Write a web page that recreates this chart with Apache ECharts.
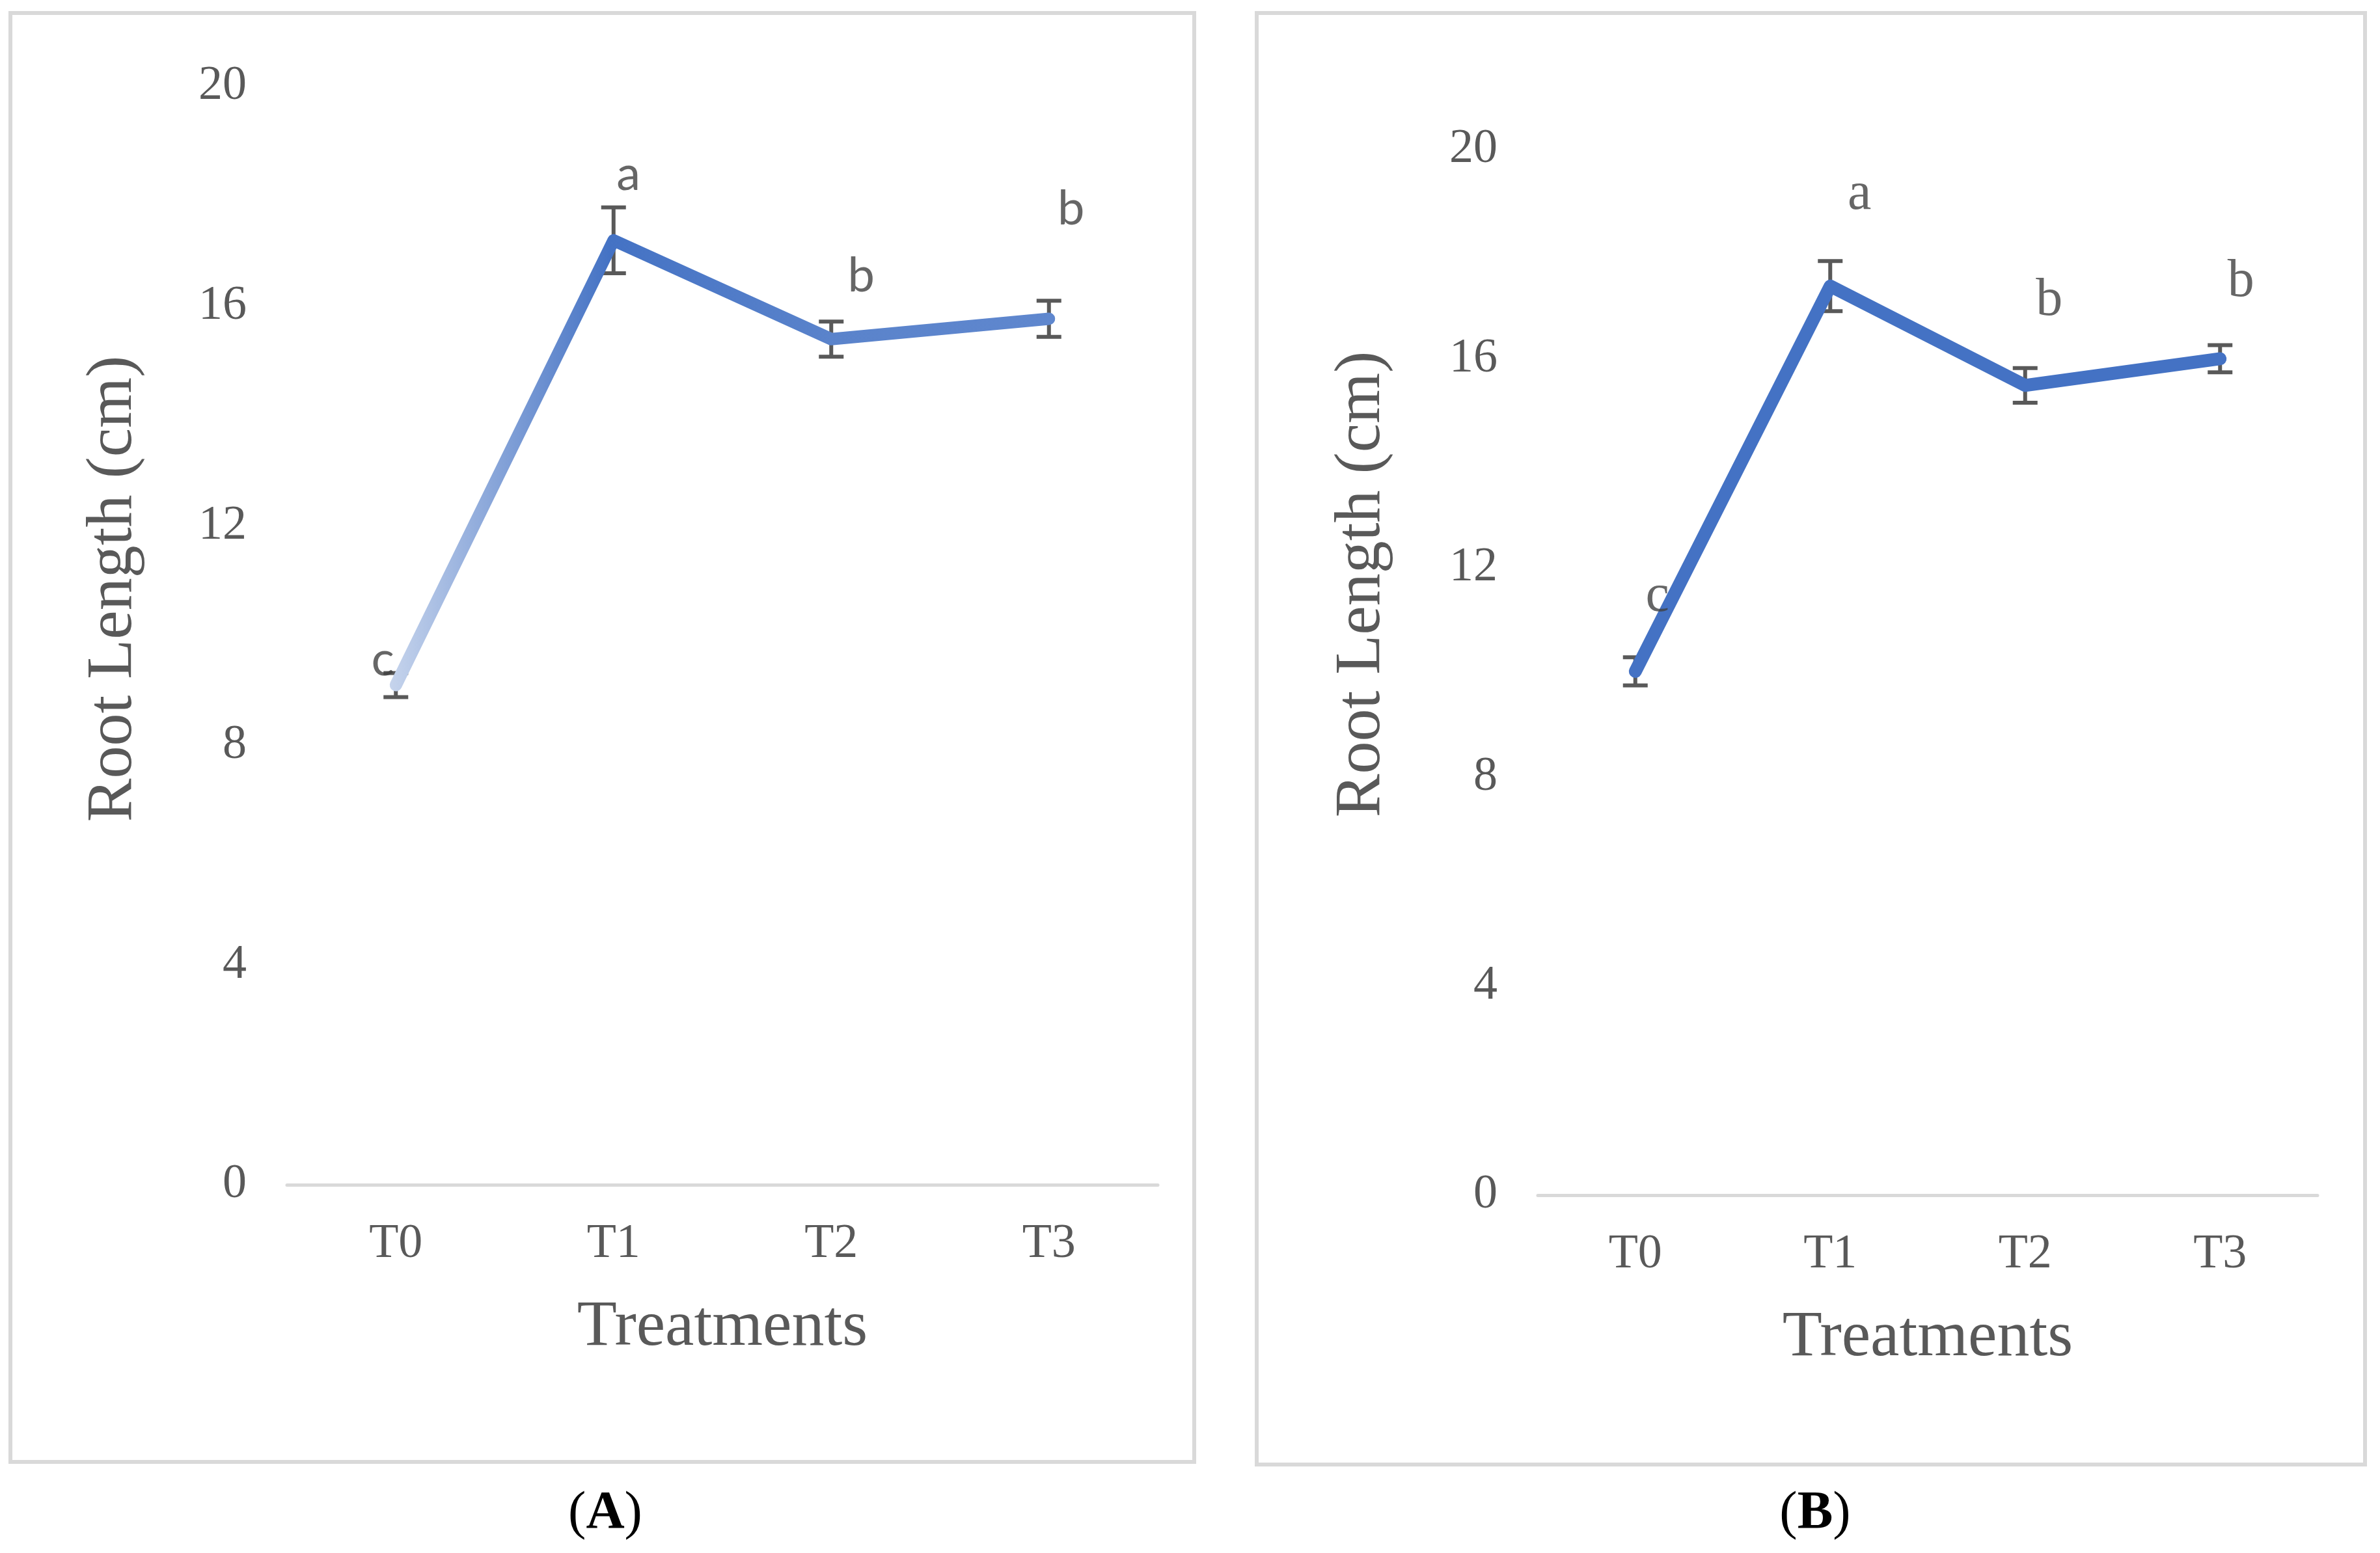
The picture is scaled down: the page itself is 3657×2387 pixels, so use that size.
<!DOCTYPE html>
<html><head><meta charset="utf-8">
<script src="https://cdn.jsdelivr.net/npm/echarts@6/dist/echarts.min.js"></script>
<style>html,body{margin:0;padding:0;background:#fff}#c{width:3657px;height:2387px}</style>
</head><body><div id="c"></div>
<script>
// ---- data ----
const categories = ['T0', 'T1', 'T2', 'T3'];
const yMin = 0, yMax = 20, yStep = 4;
const meanA = [9.1, 17.2, 15.4, 15.77];
const errA = [0.22, 0.6, 0.32, 0.33];
const lettersA = ['c', 'a', 'b', 'b'];
const letterLevelA = [9.56, 18.4, 16.55, 17.77];
const meanB = [10.02, 17.39, 15.49, 16.0];
const errB = [0.27, 0.48, 0.33, 0.26];
const lettersB = ['c', 'a', 'b', 'b'];
const letterLevelB = [11.45, 19.13, 17.11, 17.47];
const panelNames = ['A', 'B'];
const xTitle = 'Treatments';
const yTitle = 'Root Length (cm)';

// ---- styling ----
const SERIF = 'Liberation Serif';
const GRAY = '#595959';
const letterOffsetA = [[-20, 0], [23, 0], [46, 0], [34, 0]];
const letterOffsetB = [[34, 0], [45, 0], [37, 0], [32, 0]];

function errRender(params, api) {
  const x = api.value(0), lo = api.value(1), hi = api.value(2);
  const pl = api.coord([x, lo]), ph = api.coord([x, hi]);
  const w = 19;
  const style = { stroke: GRAY, lineWidth: 6 };
  return { type: 'group', children: [
    { type: 'line', shape: { x1: pl[0], y1: pl[1], x2: ph[0], y2: ph[1] }, style },
    { type: 'line', shape: { x1: pl[0] - w, y1: pl[1], x2: pl[0] + w, y2: pl[1] }, style },
    { type: 'line', shape: { x1: ph[0] - w, y1: ph[1], x2: ph[0] + w, y2: ph[1] }, style }
  ]};
}

function xAxisCfg(gi) {
  return {
    type: 'category', gridIndex: gi, data: categories, boundaryGap: true,
    axisLine: { lineStyle: { color: '#d9d9d9', width: 5 } },
    axisTick: { show: false },
    axisLabel: { fontFamily: SERIF, fontSize: 74, color: GRAY, margin: 55 },
    name: xTitle, nameLocation: 'middle', nameGap: 170,
    nameTextStyle: { fontFamily: SERIF, fontSize: 100, color: GRAY }
  };
}
function yAxisCfg(gi, gap, pad) {
  return {
    type: 'value', gridIndex: gi, min: yMin, max: yMax, interval: yStep,
    axisLine: { show: false }, axisTick: { show: false }, splitLine: { show: false },
    axisLabel: { fontFamily: SERIF, fontSize: 74, color: GRAY, margin: 62, padding: [14, 0, 0, 0] },
    name: yTitle, nameLocation: 'middle', nameRotate: 90, nameGap: gap,
    nameTextStyle: { fontFamily: SERIF, fontSize: 100, color: GRAY, padding: [0, 0, 0, pad] }
  };
}
function errData(mean, err) { return mean.map((m, i) => [i, m - err[i], m + err[i]]); }
function letterData(levels, offs) {
  return levels.map((v, i) => ({ value: [i, v], label: { offset: offs[i] } }));
}

const chart = echarts.init(document.getElementById('c'), null, { renderer: 'canvas' });
chart.setOption({
  backgroundColor: '#fff',
  animation: false,
  grid: [
    { left: 441, right: 3657 - 1779, top: 133, height: 1688 },
    { left: 2363, right: 3657 - 3561, top: 230, height: 1607 }
  ],
  xAxis: [xAxisCfg(0), xAxisCfg(1)],
  yAxis: [yAxisCfg(0, 216, 144), yAxisCfg(1, 220, 271)],
  graphic: [
    { type: 'rect', shape: { x: 16, y: 20, width: 1819, height: 2227 }, style: { fill: 'none', stroke: '#d9d9d9', lineWidth: 6 }, z: -1 },
    { type: 'rect', shape: { x: 1931, y: 20, width: 1703, height: 2231 }, style: { fill: 'none', stroke: '#d9d9d9', lineWidth: 6 }, z: -1 },
    { type: 'text', x: 930, y: 2327, style: { text: '{p|(}{b|' + panelNames[0] + '}{p|)}', align: 'center', verticalAlign: 'middle',
      rich: { p: { fontFamily: SERIF, fontSize: 82, fill: '#000' }, b: { fontFamily: SERIF, fontSize: 82, fontWeight: 'bold', fill: '#000' } } } },
    { type: 'text', x: 2789, y: 2327, style: { text: '{p|(}{b|' + panelNames[1] + '}{p|)}', align: 'center', verticalAlign: 'middle',
      rich: { p: { fontFamily: SERIF, fontSize: 82, fill: '#000' }, b: { fontFamily: SERIF, fontSize: 82, fontWeight: 'bold', fill: '#000' } } } }
  ],
  series: [
    { type: 'custom', xAxisIndex: 0, yAxisIndex: 0, renderItem: errRender, data: errData(meanA, errA), z: 2 },
    { type: 'line', xAxisIndex: 0, yAxisIndex: 0, data: meanA, showSymbol: false, symbol: 'none', z: 3,
      lineStyle: { width: 19, cap: 'round', join: 'round',
        color: new echarts.graphic.LinearGradient(0, 0, 1, 0, [
          { offset: 0, color: '#c6d4ec' }, { offset: 0.33, color: '#4472c4' },
          { offset: 0.66, color: '#5a83cb' }, { offset: 1, color: '#5f87ce' }]) } },
    { type: 'scatter', xAxisIndex: 0, yAxisIndex: 0, data: letterData(letterLevelA, letterOffsetA), symbolSize: 1,
      itemStyle: { color: 'rgba(0,0,0,0)' }, z: 4,
      label: { show: true, position: 'inside', formatter: p => lettersA[p.dataIndex],
        fontFamily: 'Lato', fontSize: 74, color: '#404040' } },
    { type: 'custom', xAxisIndex: 1, yAxisIndex: 1, renderItem: errRender, data: errData(meanB, errB), z: 2 },
    { type: 'line', xAxisIndex: 1, yAxisIndex: 1, data: meanB, showSymbol: false, symbol: 'none', z: 3,
      lineStyle: { width: 20, cap: 'round', join: 'round', color: '#4472c4' } },
    { type: 'scatter', xAxisIndex: 1, yAxisIndex: 1, data: letterData(letterLevelB, letterOffsetB), symbolSize: 1,
      itemStyle: { color: 'rgba(0,0,0,0)' }, z: 4,
      label: { show: true, position: 'inside', formatter: p => lettersB[p.dataIndex],
        fontFamily: SERIF, fontSize: 82, color: '#404040' } }
  ]
});
</script></body></html>
